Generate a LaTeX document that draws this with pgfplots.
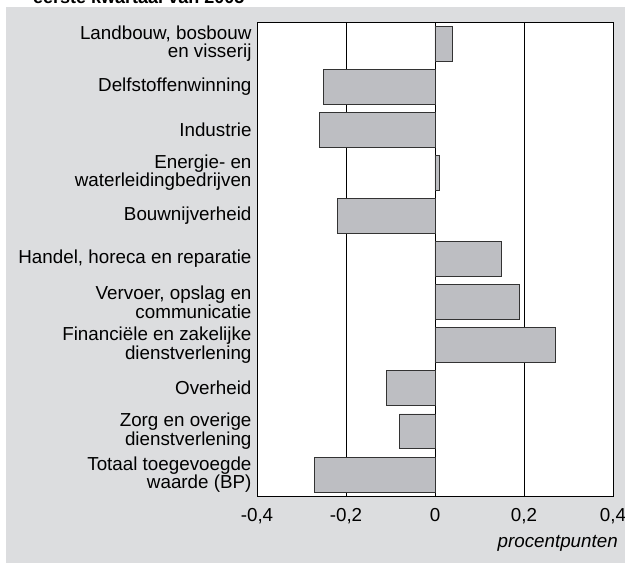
\documentclass[border=0pt]{standalone}
\usepackage{fontspec}
\setmainfont{Liberation Sans}
\usepackage{pgfplots}
\pgfplotsset{compat=1.18}
\definecolor{bg}{HTML}{DCDDDF}
\definecolor{barfill}{HTML}{BDBEC2}
\definecolor{barline}{HTML}{333333}
\begin{document}
\begin{tikzpicture}
\useasboundingbox (0pt,0pt) rectangle (625pt,563pt);
\fill[white] (0pt,0pt) rectangle (625pt,563pt);
\fill[bg] (6pt,0pt) rectangle (625pt,556pt);
\node[anchor=base west, inner sep=0pt, font=\fontsize{18}{18}\selectfont\bfseries] at (33pt,559pt) {eerste kwartaal van 2005};
\begin{axis}[
  at={(257pt,67pt)}, anchor=south west,
  scale only axis, width=356pt, height=474pt,
  xmin=-0.4, xmax=0.4, ymin=0.5, ymax=11.5,
  y dir=reverse,
  xbar, bar width=0.81,
  axis background/.style={fill=white},
  axis line style={black, line width=0.8pt},
  xtick={-0.4,-0.2,0,0.2,0.4},
  xmajorgrids, grid style={black, line width=0.8pt},
  major tick length=0pt,
  ytick={1,...,11},
  yticklabels={{Landbouw, bosbouw\\en visserij},{Delfstoffenwinning},{Industrie},{Energie- en\\waterleidingbedrijven},{Bouwnijverheid},{Handel, horeca en reparatie},{Vervoer, opslag en\\communicatie},{Financiële en zakelijke\\dienstverlening},{Overheid},{Zorg en overige\\dienstverlening},{Totaal toegevoegde\\waarde (BP)}},
  yticklabel style={align=right, font=\fontsize{18.8}{18.5}\selectfont, xshift=-2pt},
  xticklabel style={font=\fontsize{18.8}{18.5}\selectfont, yshift=-9pt},
  /pgf/number format/assume math mode=true,
  /pgf/number format/.cd, use comma, fixed, precision=1,
]
\addplot[fill=barfill, draw=barline, line width=0.8pt] coordinates {
(0.04,1) (-0.25,2) (-0.26,3) (0.01,4) (-0.22,5) (0.15,6) (0.19,7) (0.27,8) (-0.11,9) (-0.08,10) (-0.27,11)};
\end{axis}
\node[anchor=east, inner sep=0pt, font=\fontsize{18.8}{18}\selectfont\itshape] at (618pt,20pt) {procentpunten};
\end{tikzpicture}
\end{document}
